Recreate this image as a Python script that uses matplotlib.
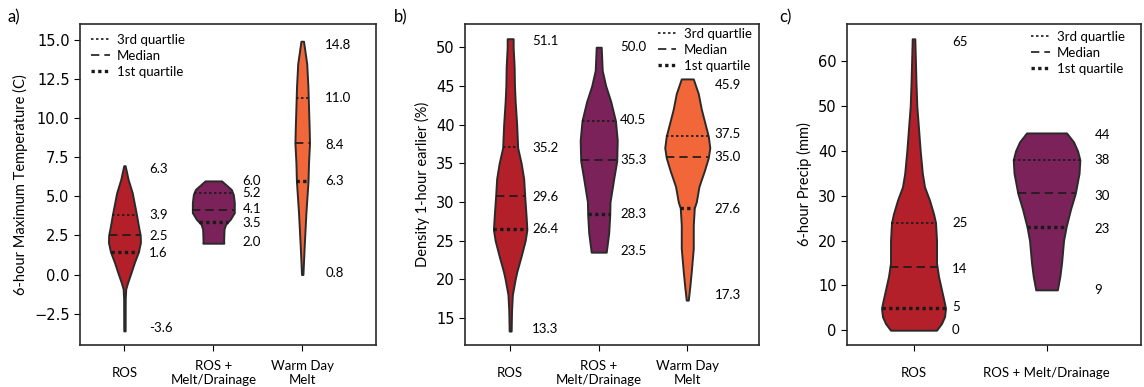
import numpy as np
import matplotlib
matplotlib.use("Agg")
import matplotlib.pyplot as plt
from matplotlib.lines import Line2D

plt.rcParams['font.family'] = ['Lato', 'DejaVu Sans']

# colours of the three event types
RED = "#B3202A"
PURPLE = "#7A2259"
ORANGE = "#F2673A"
EDGE = "#2a2a2a"

# ---------------- panel a : 6-hour max temperature ----------------
cats_a = ["ROS", "ROS +\nMelt/Drainage", "Warm Day\nMelt"]

ros_a_y = [6.95, 6.07, 5.22, 3.84, 3.1, 2.51, 2.05, 1.45, 0.78, 0.14, -0.49, -0.92, -1.55, -3.6]
ros_a_w = [0.7, 3.7, 7.8, 12, 14, 15.8, 16, 14, 10, 6.7, 3.3, 1.3, 0.8, 0.7]
ros_a_q = [1.42, 2.52, 3.81]
ros_a_lab = ["6.3", "3.9", "2.5", "1.6", "-3.6"]
ros_a_laby = [6.75, 3.8, 2.47, 1.37, -3.39]

melt_a_y = [5.98, 5.43, 5.11, 4.59, 3.95, 3.53, 3.21, 2.9, 2.15, 2.0]
melt_a_w = [8.3, 18, 20, 21, 21, 17, 12.3, 10.7, 10.3, 10.5]
melt_a_q = [3.38, 4.10, 5.18]
melt_a_lab = ["6.0", "5.2", "4.1", "3.5", "2.0"]
melt_a_laby = [6.0, 5.18, 4.17, 3.32, 2.09]

warm_a_y = [14.9, 13.47, 12.0, 11.35, 9.24, 8.4, 7.13, 5.96, 3.95, 1.83, 0.0]
warm_a_w = [1.3, 4.5, 5.7, 6.0, 7, 7.3, 6.3, 5.8, 3.7, 2, 0.7]
warm_a_q = [6.0, 8.4, 11.3]
warm_a_lab = ["14.8", "11.0", "8.4", "6.3", "0.8"]
warm_a_laby = [14.68, 11.3, 8.25, 6.0, 0.08]

# ---------------- panel b : density 1-hour earlier ----------------
cats_b = ["ROS", "ROS +\nMelt/Drainage", "Warm Day\nMelt"]

ros_b_y = [51.1, 50, 47.4, 45, 43, 40, 37, 35, 33, 30.8, 28, 26.4, 25, 23, 21, 20, 18, 16, 13.3]
ros_b_w = [3, 3, 4, 4.3, 5, 6.5, 7.5, 11, 13.5, 14.5, 16, 16.7, 15, 11, 6.7, 5, 2.2, 1.4, 1]
ros_b_q = [26.45, 30.8, 37.1]
ros_b_lab = ["51.1", "35.2", "29.6", "26.4", "13.3"]
ros_b_laby = [50.86, 36.95, 30.68, 26.45, 13.57]

melt_b_y = [50, 47, 45, 43, 40.5, 38, 35.3, 33, 30, 28.3, 26, 24.5, 23.5]
melt_b_w = [2.5, 3.5, 7, 12, 16.7, 18.5, 18, 15, 11.3, 11, 10, 8.5, 7.5]
melt_b_q = [28.5, 35.4, 40.5]
melt_b_lab = ["50.0", "40.5", "35.3", "28.3", "23.5"]
melt_b_laby = [50.0, 40.6, 35.4, 28.5, 23.7]

warm_b_y = [45.9, 44, 42, 40, 38.5, 37, 35.7, 34, 32, 30, 29.2, 27, 24, 21, 19, 17.3]
warm_b_w = [6, 11, 14, 18, 21, 22.5, 21, 17, 11.7, 9, 7, 6, 6, 4, 2.5, 1]
warm_b_q = [29.2, 35.8, 38.5]
warm_b_lab = ["45.9", "37.5", "35.0", "27.6", "17.3"]
warm_b_laby = [45.1, 38.8, 35.8, 29.1, 18.0]

# ---------------- panel c : 6-hour precip ----------------
cats_c = ["ROS", "ROS + Melt/Drainage"]

ros_c_y = [65, 55, 50, 45, 40, 35, 32, 29, 26, 24, 20, 15, 12, 9, 6, 4.9, 3, 1.5, 0]
ros_c_w = [1.3, 2.5, 3.3, 5, 6.7, 8.8, 11, 16, 20, 22, 23, 23, 25, 28, 31, 32, 31, 28, 23]
ros_c_q = [4.9, 14.0, 23.9]
ros_c_lab = ["65", "25", "14", "5", "0"]
ros_c_laby = [64.2, 23.9, 13.7, 5.2, 0.0]

melt_c_y = [44, 42, 40, 38, 35, 30.5, 27, 23, 20, 15, 12, 9]
melt_c_w = [20, 27, 31, 33.3, 32.5, 28.7, 24, 19.5, 17, 15, 13.3, 10.8]
melt_c_q = [23.0, 30.5, 37.9]
melt_c_lab = ["44", "38", "30", "23", "9"]
melt_c_laby = [43.5, 37.9, 29.9, 22.5, 8.9]

# quartile line styles: 1st, median, 3rd
Q_STYLES = [dict(ls=(0, (1, 1)), lw=2.4), dict(ls=(0, (5, 3)), lw=1.2), dict(ls=(0, (1.5, 1.5)), lw=1.2)]


def violin(ax, pos, y, w, q, color, px_per_unit):
    y = np.asarray(y, float)
    w = np.asarray(w, float) / px_per_unit
    ax.fill_betweenx(y, pos - w, pos + w, facecolor=color, edgecolor=EDGE, lw=1.4, zorder=2)
    ys = y[::-1]
    ws = w[::-1]
    for val, st in zip(q, Q_STYLES):
        hw = np.interp(val, ys, ws)
        ax.plot([pos - hw, pos + hw], [val, val], color="#1a1a1a", zorder=3,
                solid_capstyle="butt", dash_capstyle="butt", **st)


def labels(ax, pos, texts, ys, off):
    for t, yy in zip(texts, ys):
        ax.text(pos + off, yy, t, ha="left", va="center", fontsize=9.5)


def legend(ax, loc, anchor):
    handles = [Line2D([], [], color="#1a1a1a", ls=(0, (1.5, 1.5)), lw=1.2),
               Line2D([], [], color="#1a1a1a", ls=(0, (5, 3)), lw=1.2),
               Line2D([], [], color="#1a1a1a", ls=(0, (1, 1)), lw=2.4)]
    ax.legend(handles, ["3rd quartlie", "Median", "1st quartile"], loc=loc,
              bbox_to_anchor=anchor, frameon=False, fontsize=9.5,
              handlelength=1.4, handletextpad=0.55, labelspacing=0.3,
              borderaxespad=0.0)


def style(ax, cats, ylabel):
    ax.set_xticks(range(len(cats)))
    ax.set_xticklabels(cats, fontsize=9.5)
    for lab in ax.get_xticklabels():
        lab.set_va("center")
    ax.tick_params(axis="x", length=4, pad=16)
    ax.tick_params(axis="y", length=4, labelsize=10.5)
    for lab in ax.get_yticklabels():
        lab.set_family("DejaVu Sans")
    ax.set_ylabel(ylabel, fontsize=10.5)
    for s in ax.spines.values():
        s.set_linewidth(1.2)
        s.set_color(EDGE)


fig = plt.figure(figsize=(11.44, 3.87), dpi=100)
bot = 42 / 387
hgt = 321 / 387
ax_a = fig.add_axes([80 / 1144, bot, 296 / 1144, hgt])
ax_b = fig.add_axes([465 / 1144, bot, 294 / 1144, hgt])
ax_c = fig.add_axes([847 / 1144, bot, 294 / 1144, hgt])

# panel a
violin(ax_a, 0, ros_a_y, ros_a_w, ros_a_q, RED, 89)
violin(ax_a, 1, melt_a_y, melt_a_w, melt_a_q, PURPLE, 89)
violin(ax_a, 2, warm_a_y, warm_a_w, warm_a_q, ORANGE, 89)
labels(ax_a, 0, ros_a_lab, ros_a_laby, 0.28)
labels(ax_a, 1, melt_a_lab, melt_a_laby, 0.33)
labels(ax_a, 2, warm_a_lab, warm_a_laby, 0.26)
ax_a.set_xlim(-0.5, 2.83)
ax_a.set_ylim(-4.5, 16.0)
ax_a.set_yticks([-2.5, 0.0, 2.5, 5.0, 7.5, 10.0, 12.5, 15.0])
style(ax_a, cats_a, "6-hour Maximum Temperature (C)")
legend(ax_a, "upper left", (0.02, 0.985))

# panel b
violin(ax_b, 0, ros_b_y, ros_b_w, ros_b_q, RED, 88.5)
violin(ax_b, 1, melt_b_y, melt_b_w, melt_b_q, PURPLE, 88.5)
violin(ax_b, 2, warm_b_y, warm_b_w, warm_b_q, ORANGE, 88.5)
labels(ax_b, 0, ros_b_lab, ros_b_laby, 0.25)
labels(ax_b, 1, melt_b_lab, melt_b_laby, 0.24)
labels(ax_b, 2, warm_b_lab, warm_b_laby, 0.31)
ax_b.set_xlim(-0.51, 2.81)
ax_b.set_ylim(11.5, 53.0)
ax_b.set_yticks([15, 20, 25, 30, 35, 40, 45, 50])
style(ax_b, cats_b, "Density 1-hour earlier (%)")
legend(ax_b, "upper right", (0.993, 1.005))

# panel c
violin(ax_c, 0, ros_c_y, ros_c_w, ros_c_q, RED, 133)
violin(ax_c, 1, melt_c_y, melt_c_w, melt_c_q, PURPLE, 133)
labels(ax_c, 0, ros_c_lab, ros_c_laby, 0.29)
labels(ax_c, 1, melt_c_lab, melt_c_laby, 0.36)
ax_c.set_xlim(-0.5, 1.71)
ax_c.set_ylim(-3.3, 68.3)
ax_c.set_yticks([0, 10, 20, 30, 40, 50, 60])
style(ax_c, cats_c, "6-hour Precip (mm)")
legend(ax_c, "upper right", (0.963, 0.995))

fig.text(8 / 1144, 1 - 17 / 387, "a)", fontsize=12, va="center")
fig.text(394 / 1144, 1 - 17 / 387, "b)", fontsize=12, va="center")
fig.text(779 / 1144, 1 - 17 / 387, "c)", fontsize=12, va="center")

fig.savefig("out.png", dpi=100)
